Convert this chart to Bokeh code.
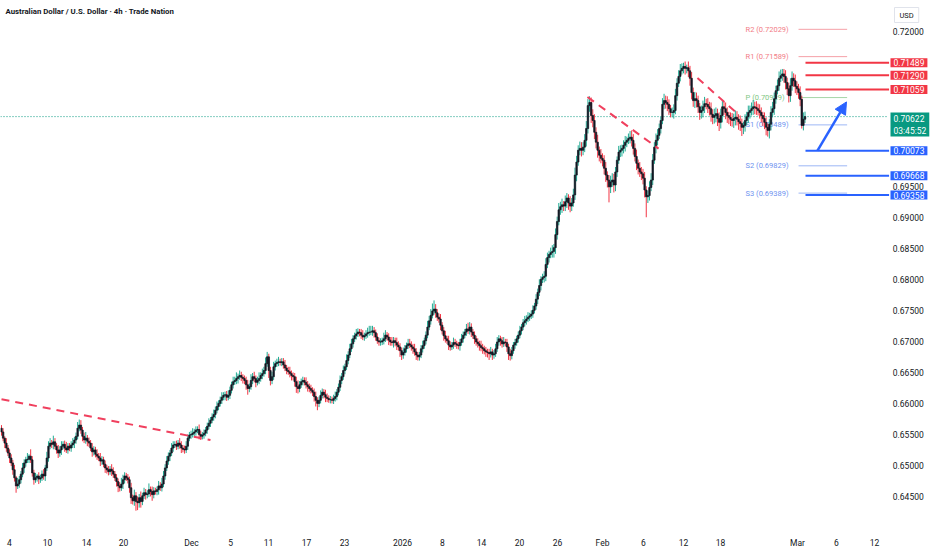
from bokeh.plotting import figure
from bokeh.models import (ColumnDataSource, FixedTicker, Label, Arrow, NormalHead,
                          Range1d)
from bokeh.core.properties import value
from bokeh.embed import file_html
from bokeh.resources import INLINE

# ---------------- data (AUD/USD, 4h bars, one row per trading day) ----------------
FIRST_OPEN = 0.6560
CLOSE_BY_DAY = [
    [0.6554, 0.6544, 0.6536, 0.6528, 0.6520, 0.6512],
    [0.6504, 0.6493, 0.6480, 0.6467, 0.6470, 0.6477],
    [0.6486, 0.6496, 0.6504, 0.6509, 0.6510, 0.6515],
    [0.6509, 0.6488, 0.6477, 0.6480, 0.6483, 0.6478],
    [0.6480, 0.6486, 0.6483, 0.6496, 0.6512, 0.6531],
    [0.6536, 0.6534, 0.6538, 0.6531, 0.6525, 0.6520],
    [0.6525, 0.6531, 0.6534, 0.6528, 0.6525, 0.6531],
    [0.6528, 0.6533, 0.6536, 0.6541, 0.6547, 0.6560],
    [0.6565, 0.6557, 0.6547, 0.6541, 0.6544, 0.6539],
    [0.6536, 0.6528, 0.6522, 0.6525, 0.6518, 0.6515],
    [0.6512, 0.6507, 0.6509, 0.6502, 0.6496, 0.6493],
    [0.6490, 0.6494, 0.6491, 0.6486, 0.6480, 0.6474],
    [0.6467, 0.6464, 0.6470, 0.6477, 0.6483, 0.6480],
    [0.6477, 0.6464, 0.6448, 0.6443, 0.6451, 0.6442],
    [0.6440, 0.6448, 0.6442, 0.6451, 0.6456, 0.6453],
    [0.6454, 0.6461, 0.6458, 0.6453, 0.6459, 0.6458],
    [0.6461, 0.6467, 0.6464, 0.6470, 0.6483, 0.6496],
    [0.6507, 0.6515, 0.6520, 0.6528, 0.6533, 0.6534],
    [0.6531, 0.6536, 0.6533, 0.6528, 0.6526, 0.6525],
    [0.6531, 0.6544, 0.6549, 0.6550, 0.6552, 0.6554],
    [0.6557, 0.6558, 0.6550, 0.6547, 0.6549, 0.6552],
    [0.6557, 0.6563, 0.6568, 0.6573, 0.6578, 0.6582],
    [0.6589, 0.6595, 0.6600, 0.6605, 0.6610, 0.6613],
    [0.6614, 0.6610, 0.6613, 0.6621, 0.6630, 0.6635],
    [0.6637, 0.6640, 0.6643, 0.6645, 0.6642, 0.6640],
    [0.6637, 0.6630, 0.6624, 0.6627, 0.6637, 0.6643],
    [0.6640, 0.6634, 0.6637, 0.6640, 0.6645, 0.6648],
    [0.6653, 0.6664, 0.6675, 0.6653, 0.6637, 0.6643],
    [0.6659, 0.6664, 0.6666, 0.6667, 0.6666, 0.6667],
    [0.6662, 0.6657, 0.6653, 0.6651, 0.6648, 0.6645],
    [0.6643, 0.6635, 0.6627, 0.6624, 0.6630, 0.6635],
    [0.6637, 0.6634, 0.6630, 0.6627, 0.6624, 0.6621],
    [0.6618, 0.6611, 0.6605, 0.6600, 0.6605, 0.6613],
    [0.6618, 0.6614, 0.6610, 0.6608, 0.6606, 0.6606],
    [0.6605, 0.6608, 0.6611, 0.6618, 0.6626, 0.6637],
    [0.6643, 0.6653, 0.6659, 0.6669, 0.6678, 0.6688],
    [0.6696, 0.6704, 0.6709, 0.6712, 0.6715, 0.6714],
    [0.6710, 0.6707, 0.6709, 0.6712, 0.6714, 0.6715],
    [0.6715, 0.6717, 0.6714, 0.6707, 0.6701, 0.6699],
    [0.6699, 0.6701, 0.6704, 0.6710, 0.6707, 0.6702],
    [0.6699, 0.6698, 0.6701, 0.6698, 0.6694, 0.6691],
    [0.6685, 0.6678, 0.6682, 0.6688, 0.6693, 0.6696],
    [0.6694, 0.6691, 0.6688, 0.6683, 0.6678, 0.6675],
    [0.6678, 0.6688, 0.6693, 0.6701, 0.6710, 0.6723],
    [0.6733, 0.6742, 0.6749, 0.6752, 0.6746, 0.6739],
    [0.6736, 0.6726, 0.6717, 0.6709, 0.6704, 0.6701],
    [0.6694, 0.6691, 0.6694, 0.6698, 0.6696, 0.6694],
    [0.6693, 0.6698, 0.6704, 0.6710, 0.6715, 0.6720],
    [0.6717, 0.6723, 0.6715, 0.6710, 0.6704, 0.6699],
    [0.6696, 0.6693, 0.6690, 0.6688, 0.6685, 0.6683],
    [0.6682, 0.6680, 0.6683, 0.6678, 0.6680, 0.6688],
    [0.6699, 0.6704, 0.6701, 0.6696, 0.6699, 0.6698],
    [0.6691, 0.6680, 0.6677, 0.6685, 0.6694, 0.6698],
    [0.6704, 0.6710, 0.6717, 0.6723, 0.6730, 0.6733],
    [0.6736, 0.6739, 0.6741, 0.6744, 0.6750, 0.6757],
    [0.6768, 0.6779, 0.6790, 0.6800, 0.6803, 0.6805],
    [0.6824, 0.6835, 0.6840, 0.6843, 0.6845, 0.6851],
    [0.6872, 0.6893, 0.6912, 0.6917, 0.6920, 0.6918],
    [0.6925, 0.6931, 0.6923, 0.6918, 0.6923, 0.6936],
    [0.6968, 0.6989, 0.7008, 0.7011, 0.7008, 0.7013],
    [0.7024, 0.7043, 0.7080, 0.7085, 0.7064, 0.7056],
    [0.7037, 0.7021, 0.7008, 0.7000, 0.6995, 0.6992],
    [0.6979, 0.6968, 0.6960, 0.6949, 0.6957, 0.6960],
    [0.6952, 0.6973, 0.6992, 0.7005, 0.7008, 0.7011],
    [0.7016, 0.7021, 0.7024, 0.7027, 0.7029, 0.7024],
    [0.7011, 0.6998, 0.6987, 0.6979, 0.6973, 0.6970],
    [0.6963, 0.6944, 0.6933, 0.6935, 0.6948, 0.6960],
    [0.6992, 0.7013, 0.7024, 0.7032, 0.7043, 0.7056],
    [0.7082, 0.7088, 0.7085, 0.7082, 0.7075, 0.7069],
    [0.7069, 0.7072, 0.7096, 0.7116, 0.7127, 0.7136],
    [0.7140, 0.7143, 0.7140, 0.7141, 0.7136, 0.7124],
    [0.7101, 0.7088, 0.7091, 0.7088, 0.7078, 0.7069],
    [0.7072, 0.7078, 0.7083, 0.7082, 0.7078, 0.7075],
    [0.7066, 0.7061, 0.7064, 0.7067, 0.7059, 0.7053],
    [0.7064, 0.7078, 0.7075, 0.7069, 0.7064, 0.7061],
    [0.7058, 0.7056, 0.7059, 0.7061, 0.7058, 0.7054],
    [0.7051, 0.7045, 0.7048, 0.7056, 0.7062, 0.7069],
    [0.7072, 0.7075, 0.7078, 0.7077, 0.7075, 0.7072],
    [0.7069, 0.7064, 0.7059, 0.7053, 0.7045, 0.7040],
    [0.7050, 0.7069, 0.7075, 0.7091, 0.7104, 0.7112],
    [0.7124, 0.7128, 0.7131, 0.7127, 0.7117, 0.7107],
    [0.7096, 0.7112, 0.7124, 0.7120, 0.7111, 0.7107],
    [0.7101, 0.7090, 0.7048, 0.7058, 0.70622],
]
WICK_UP_PIPS = [
    [5, 6, 3, 8, 5, 6], [6, 5, 8, 3, 10, 6], [5, 8, 6, 5, 10, 3], [11, 6, 5, 8, 3, 6],
    [5, 6, 8, 5, 10, 8], [8, 5, 10, 6, 5, 8], [6, 8, 5, 6, 10, 5], [5, 6, 8, 5, 6, 10],
    [9, 8, 5, 6, 10, 5], [6, 5, 8, 6, 5, 8], [5, 8, 6, 5, 6, 5], [6, 5, 8, 6, 5, 6],
    [5, 6, 10, 8, 6, 5], [6, 5, 8, 5, 10, 6], [8, 6, 10, 5, 8, 6], [6, 10, 5, 8, 6, 5],
    [5, 8, 6, 10, 8, 6], [8, 6, 5, 8, 6, 5], [6, 5, 8, 6, 5, 6], [8, 6, 5, 6, 8, 5],
    [6, 5, 8, 6, 5, 6], [5, 6, 8, 5, 6, 8], [6, 8, 5, 6, 8, 5], [5, 6, 8, 6, 5, 8],
    [6, 10, 5, 8, 6, 5], [5, 6, 8, 5, 10, 6], [8, 5, 6, 10, 5, 8], [6, 10, 8, 5, 6, 8],
    [8, 5, 6, 8, 5, 6], [6, 8, 5, 6, 8, 5], [5, 6, 8, 10, 6, 5], [6, 5, 8, 6, 5, 6],
    [5, 6, 8, 5, 6, 8], [6, 5, 8, 6, 5, 6], [5, 6, 8, 5, 6, 8], [6, 8, 5, 10, 6, 8],
    [8, 6, 5, 8, 6, 5], [6, 8, 5, 6, 8, 10], [10, 8, 6, 5, 6, 5], [6, 5, 10, 8, 5, 6],
    [5, 8, 6, 5, 8, 6], [6, 5, 8, 6, 5, 8], [8, 6, 5, 8, 6, 5], [5, 6, 8, 5, 6, 10],
    [8, 10, 12, 14, 8, 6], [6, 8, 5, 6, 8, 5], [8, 6, 5, 8, 6, 5], [5, 6, 8, 6, 5, 8],
    [10, 8, 6, 5, 6, 5], [6, 5, 8, 6, 5, 6], [5, 6, 8, 5, 6, 8], [8, 6, 5, 6, 8, 5],
    [6, 5, 8, 6, 5, 6], [5, 6, 8, 5, 6, 8], [6, 8, 5, 6, 8, 5], [8, 6, 10, 5, 6, 8],
    [10, 8, 6, 8, 10, 6], [10, 8, 11, 8, 10, 6], [10, 8, 6, 11, 8, 10], [12, 10, 8, 11, 10, 8],
    [10, 12, 11, 10, 8, 10], [10, 8, 12, 6, 10, 8], [8, 10, 6, 8, 10, 11], [10, 8, 6, 10, 8, 6],
    [8, 10, 6, 8, 10, 11], [10, 8, 11, 6, 10, 8], [8, 10, 6, 8, 10, 11], [10, 8, 11, 10, 8, 6],
    [10, 11, 8, 10, 8, 6], [8, 10, 11, 8, 10, 11], [8, 6, 8, 5, 10, 8], [10, 8, 11, 10, 8, 6],
    [8, 10, 11, 8, 10, 8], [10, 8, 11, 10, 8, 10], [11, 10, 8, 10, 8, 6], [8, 10, 8, 11, 10, 8],
    [10, 8, 6, 10, 8, 11], [8, 10, 11, 8, 10, 8], [10, 8, 6, 10, 8, 6], [8, 10, 11, 10, 8, 10],
    [11, 10, 8, 8, 10, 8], [10, 12, 11, 8, 10, 8], [8, 10, 6, 11, 8],
]
WICK_DN_PIPS = [
    [6, 5, 8, 6, 5, 8], [5, 8, 6, 11, 5, 6], [6, 5, 8, 6, 5, 6], [5, 6, 8, 5, 6, 8],
    [6, 5, 6, 8, 5, 6], [5, 6, 8, 5, 6, 8], [6, 8, 5, 6, 5, 6], [5, 6, 5, 8, 6, 5],
    [5, 6, 8, 5, 6, 8], [6, 5, 8, 6, 5, 6], [5, 8, 6, 5, 8, 6], [6, 5, 8, 6, 5, 8],
    [10, 6, 5, 8, 6, 5], [6, 8, 10, 6, 8, 15], [12, 8, 10, 6, 5, 8], [6, 5, 8, 10, 6, 5],
    [6, 8, 5, 6, 5, 6], [5, 6, 8, 5, 6, 5], [6, 5, 6, 8, 5, 6], [5, 6, 5, 6, 5, 6],
    [6, 5, 8, 6, 5, 6], [5, 6, 5, 6, 5, 6], [6, 5, 6, 5, 6, 5], [8, 6, 5, 6, 5, 6],
    [5, 6, 8, 5, 6, 8], [6, 8, 10, 6, 5, 6], [6, 8, 5, 6, 5, 6], [5, 6, 5, 12, 8, 6],
    [5, 6, 5, 6, 5, 6], [6, 5, 6, 5, 6, 8], [6, 8, 10, 8, 6, 5], [6, 5, 6, 8, 6, 5],
    [6, 8, 10, 11, 6, 5], [5, 6, 8, 6, 5, 6], [5, 6, 5, 6, 5, 6], [6, 5, 6, 5, 6, 5],
    [5, 6, 5, 6, 5, 6], [6, 5, 6, 5, 6, 5], [5, 6, 8, 6, 5, 6], [6, 5, 6, 5, 6, 8],
    [6, 5, 8, 6, 8, 6], [10, 8, 6, 5, 6, 5], [5, 6, 8, 6, 8, 6], [6, 5, 6, 5, 6, 5],
    [5, 6, 5, 6, 8, 6], [6, 8, 6, 8, 6, 5], [8, 6, 5, 6, 5, 6], [6, 8, 5, 6, 5, 6],
    [5, 6, 8, 6, 8, 6], [6, 8, 6, 8, 6, 8], [8, 10, 6, 8, 6, 5], [5, 6, 8, 6, 5, 6],
    [8, 10, 8, 6, 5, 6], [5, 6, 5, 6, 5, 6], [6, 5, 6, 5, 6, 5], [6, 8, 6, 8, 6, 8],
    [8, 6, 8, 6, 8, 10], [10, 8, 6, 8, 10, 8], [8, 10, 11, 10, 8, 6], [8, 10, 6, 8, 10, 8],
    [8, 10, 8, 10, 12, 11], [11, 10, 12, 10, 8, 10], [10, 11, 12, 25, 10, 8], [12, 10, 8, 6, 8, 10],
    [8, 10, 8, 6, 8, 10], [10, 8, 11, 10, 8, 10], [10, 12, 33, 10, 8, 6], [8, 6, 10, 8, 6, 8],
    [6, 8, 10, 11, 10, 8], [8, 10, 6, 8, 6, 8], [6, 8, 10, 8, 10, 12], [11, 10, 12, 11, 10, 12],
    [10, 11, 10, 8, 10, 11], [12, 11, 10, 11, 12, 14], [10, 11, 10, 11, 12, 11], [11, 10, 12, 11, 10, 13],
    [12, 14, 11, 10, 8, 10], [10, 8, 10, 11, 10, 8], [10, 11, 12, 11, 13, 10], [13, 10, 8, 10, 8, 6],
    [8, 6, 8, 10, 11, 10], [11, 10, 8, 10, 11, 10], [10, 11, 5, 8, 6],
]
PRICE_TICKS = [0.645, 0.650, 0.655, 0.660, 0.665, 0.670, 0.675, 0.680,
               0.685, 0.690, 0.695, 0.700, 0.705, 0.710, 0.715, 0.720]
SCALE_TICKS_HIDDEN = [0.700, 0.705, 0.710, 0.715]   # covered by price tags on the scale
TIME_TICK_BARS = [4.9, 28.4, 52.5, 75.3, 117.3, 141.4, 164.8, 188.3, 211.7, 247.5, 272.2,
                  296.3, 319.8, 343.2, 371.0, 396.3, 421.0, 443.8, 491.4, 515.4, 538.9]
TIME_TICK_LABELS = ["4", "10", "14", "20", "Dec", "5", "11", "17", "23", "2026", "8",
                    "14", "20", "26", "Feb", "6", "12", "18", "Mar", "6", "12"]
PIVOT_NAMES = ["R2", "R1", "P", "S1", "S2", "S3"]
PIVOT_VALUES = [0.72029, 0.71589, 0.70929, 0.70489, 0.69829, 0.69389]
RESISTANCE_LEVELS = [0.71489, 0.71290, 0.71059]
SUPPORT_LEVELS = [0.70073, 0.69668, 0.69358]
LAST_PRICE = 0.70622
COUNTDOWN = "03:45:52"
TREND_BARS = [[0.0, 129.0], [361.7, 405.6], [429.6, 453.1]]
TREND_PRICES = [[0.66067, 0.65410], [0.70939, 0.70106], [0.71244, 0.70699]]
ARROW_BARS = [503.7, 521.6]
ARROW_PRICES = [0.70073, 0.70859]

# ---------------- layout / style constants ----------------
FONT = "Roboto"
TXT = "#131722"
UP_WICK = "#22ab94"
DN_WICK = "#f23645"
BODY = "#131722"
RED = "#f23645"
BLUE = "#2962ff"
GREEN = "#089981"
PIV_COL = {"R": "#f27c86", "P": "#81c784", "S": "#6f93f0"}
PIV_LINE = {"R": "#f5a0a7", "P": "#a5d6a7", "S": "#9db7f5"}
X_START, X_END = -0.617, 574.7          # whole canvas width in bar units
Y_START, Y_END = 0.640481, 0.724936
PANE_END_BAR = 546.9                    # where the price scale begins
SCALE_LABEL_BAR = 550.2
PIVOT_LABEL_BAR = 459.3
PIVOT_LINE_BARS = (492.0, 522.0)
LEVEL_LINE_START = 496.3
TAG_X = 890

# ---------------- build OHLC ----------------
closes = [c for day in CLOSE_BY_DAY for c in day]
ups = [w for day in WICK_UP_PIPS for w in day]
dns = [w for day in WICK_DN_PIPS for w in day]
n = min(len(closes), len(ups), len(dns))
closes = closes[:n]
opens = [FIRST_OPEN] + closes[:-1]
tops = [max(o, c) for o, c in zip(opens, closes)]
bots = [min(o, c) for o, c in zip(opens, closes)]
highs = [t + u * 0.0001 for t, u in zip(tops, ups[:n])]
lows = [b - d * 0.0001 for b, d in zip(bots, dns[:n])]
wick_col = [UP_WICK if c >= o else DN_WICK for o, c in zip(opens, closes)]
src = ColumnDataSource(dict(x=list(range(n)), top=tops, bottom=bots,
                            high=highs, low=lows, wick=wick_col))

p = figure(width=932, height=550, output_backend="svg", toolbar_location=None,
           x_range=Range1d(X_START, X_END), y_range=Range1d(Y_START, Y_END),
           y_axis_location=None, min_border_left=0, min_border_top=0,
           min_border_right=0, min_border_bottom=23)
p.outline_line_color = None
p.grid.visible = False
p.background_fill_color = "white"
p.border_fill_color = "white"

# time axis
xa = p.xaxis[0]
xa.ticker = FixedTicker(ticks=TIME_TICK_BARS)
xa.major_label_overrides = {t: l for t, l in zip(TIME_TICK_BARS, TIME_TICK_LABELS)}
xa.axis_line_color = None
xa.major_tick_line_color = None
xa.minor_tick_line_color = None
xa.major_label_text_font = FONT
xa.major_label_text_font_size = "8.5px"
xa.major_label_text_color = TXT
xa.major_label_standoff = 7

# price scale labels (drawn through the y scale)
shown = [v for v in PRICE_TICKS if all(abs(v - h) > 1e-9 for h in SCALE_TICKS_HIDDEN)]
scale_src = ColumnDataSource(dict(y=shown, t=[f"{v:.5f}" for v in shown],
                                  x=[SCALE_LABEL_BAR] * len(shown)))
p.text(x="x", y="y", text="t", source=scale_src, text_font=value(FONT),
       text_font_size="8.5px", text_color=TXT, text_baseline="middle", text_align="left")

# current price dotted line
p.segment(x0=[X_START], x1=[PANE_END_BAR], y0=[LAST_PRICE], y1=[LAST_PRICE],
          line_color=GREEN, line_dash="1 2", line_width=1)

# pivot labels (under candles)
for name, val in zip(PIVOT_NAMES, PIVOT_VALUES):
    k = name[0]
    p.add_layout(Label(x=PIVOT_LABEL_BAR, y=val, text=f"{name} ({val:.5f})",
                       text_font=FONT, text_font_size="7.5px", text_color=PIV_COL[k],
                       text_baseline="middle", text_align="left", level="underlay"))
p.segment(x0=[PIVOT_LINE_BARS[0]] * len(PIVOT_VALUES), x1=[PIVOT_LINE_BARS[1]] * len(PIVOT_VALUES),
          y0=PIVOT_VALUES, y1=PIVOT_VALUES,
          line_color=[PIV_LINE[nm[0]] for nm in PIVOT_NAMES], line_width=1)

# candles
p.segment(x0="x", y0="low", x1="x", y1="high", line_color="wick", line_width=1, source=src)
p.vbar(x="x", width=0.9, top="top", bottom="bottom", fill_color=BODY,
       line_color=BODY, line_width=0.7, source=src)

# trend lines
p.multi_line(xs=TREND_BARS, ys=TREND_PRICES, line_color="#f0405e", line_width=2,
             line_dash="8 6")

# horizontal levels
levels = RESISTANCE_LEVELS + SUPPORT_LEVELS
lcols = [RED] * len(RESISTANCE_LEVELS) + [BLUE] * len(SUPPORT_LEVELS)
p.segment(x0=[LEVEL_LINE_START] * len(levels), x1=[PANE_END_BAR + 1] * len(levels),
          y0=levels, y1=levels, line_color=lcols, line_width=2)

# arrow
p.add_layout(Arrow(end=NormalHead(size=12, fill_color=BLUE, line_color=BLUE, line_width=1),
                   x_start=ARROW_BARS[0], y_start=ARROW_PRICES[0],
                   x_end=ARROW_BARS[1], y_end=ARROW_PRICES[1],
                   line_color=BLUE, line_width=2.5))

# price tags on the scale
for val, col in zip(levels, lcols):
    p.add_layout(Label(x=TAG_X, y=val, x_units="screen", text=f"{val:.5f}",
                       text_font=FONT, text_font_size="8.5px", text_color="white",
                       text_baseline="middle", text_align="left",
                       background_fill_color=col, padding=(3, 1)))
p.add_layout(Label(x=TAG_X, y=LAST_PRICE, x_units="screen", y_offset=4,
                   text=f"{LAST_PRICE:.5f}\n{COUNTDOWN}",
                   text_font=FONT, text_font_size="8.5px", text_color="white",
                   text_baseline="top", text_align="left",
                   background_fill_color=GREEN, padding=(3, 1)))

# title and currency
p.add_layout(Label(x=5, y=Y_END, x_units="screen", y_offset=-6,
                   text="Australian Dollar / U.S. Dollar · 4h · Trade Nation",
                   text_font=FONT, text_font_size="7.8px", text_font_style="bold",
                   text_color=TXT, text_baseline="top", text_align="left"))
p.add_layout(Label(x=894, y=Y_END, x_units="screen", y_offset=-7, text="USD",
                   text_font=FONT, text_font_size="7.5px", text_color=TXT,
                   text_baseline="top", text_align="left",
                   border_line_color="#e0e3eb", border_line_width=1, padding=(5, 3)))

open("out.html", "w").write(file_html(p, INLINE))
